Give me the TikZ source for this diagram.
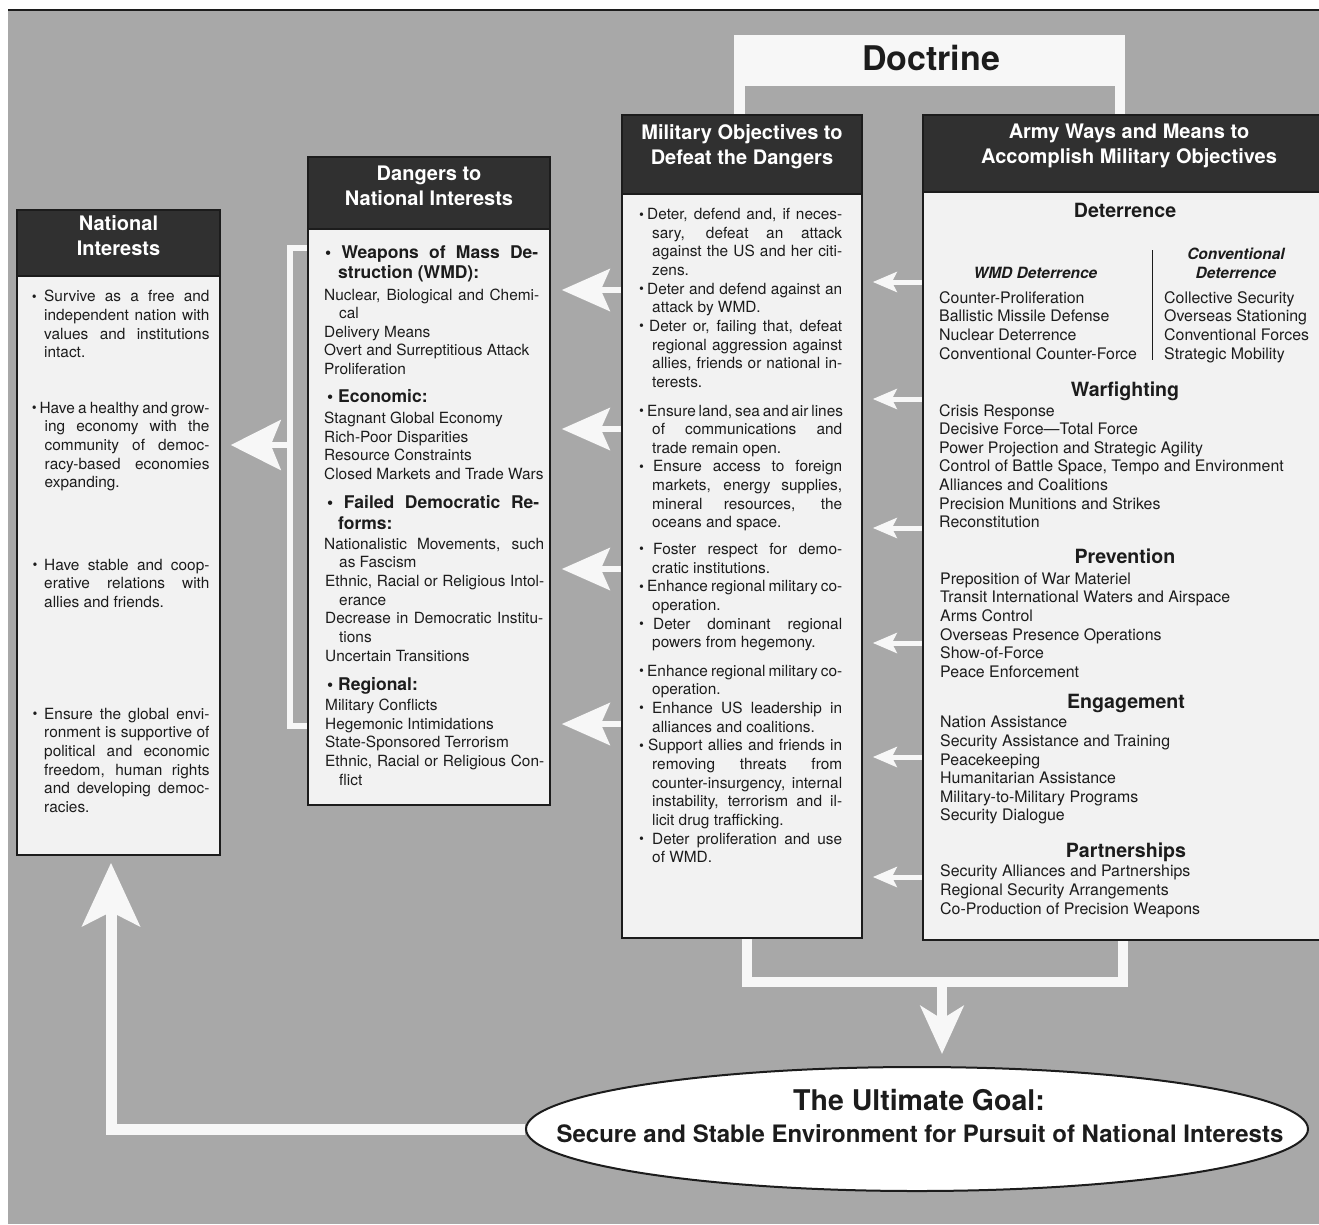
\documentclass[tikz,border=0pt]{standalone}
\usepackage{graphicx}
\usepackage{fontspec}
\setmainfont{TeX Gyre Heros}
\usetikzlibrary{arrows.meta,shapes.geometric,fit}

\definecolor{page}{HTML}{A8A8A8}
\definecolor{ink}{HTML}{1C1C1C}
\definecolor{hdrfill}{HTML}{303030}
\definecolor{paper}{HTML}{F2F2F2}
\definecolor{band}{HTML}{F7F7F7}

\pgfdeclarelayer{base}
\pgfdeclarelayer{links}
\pgfsetlayers{base,links,main}

% text helpers: column width and hanging indent of a bullet list
\newlength\colw
\newlength\hang
\newcommand\bodyfont{\fontsize{15.4}{18.65}\selectfont}
\newcommand\listfont{\fontsize{15.9}{18.65}\selectfont}
\newcommand\hdrfont{\bfseries\fontsize{20}{25}\selectfont}
\newcommand\secfont{\bfseries\fontsize{19.6}{22}\selectfont}
\newcommand\subfont{\bfseries\itshape\fontsize{15.5}{18.65}\selectfont}
\newcommand\blk[3]{\begin{minipage}[t]{#1}\bodyfont\setlength\colw{#1}\setlength\hang{#2}#3\end{minipage}}
\newcommand\lst[2]{\begin{minipage}[t]{#1}\listfont #2\end{minipage}}
% list bullet
\newcommand\dotb{\raisebox{0.6pt}{\scalebox{0.9}{\textbullet}}}
% first line of a bullet item, justified
\newcommand\fb[2][6pt]{\makebox[#1][l]{\dotb}\makebox[\dimexpr\colw-#1\relax][s]{#2}}
% continuation line, justified / natural
\newcommand\cj[1]{\hspace*{\hang}\makebox[\dimexpr\colw-\hang\relax][s]{#1}}
\newcommand\cn[1]{\hspace*{\hang}#1}
% bold category lines
\newcommand\dhd[2]{\makebox[#1][s]{\bfseries\fontsize{17.5}{18.65}\selectfont\textbullet\ #2}}
\newcommand\dhc[1]{{\bfseries\fontsize{17.5}{18.65}\selectfont #1}}

\begin{document}
\begin{tikzpicture}[x=1pt,y=-1pt,
  wband/.style={draw=band, line width=11pt},
  wline/.style={draw=band, line width=6pt},
  boxbody/.style={draw=ink, line width=1.6pt, fill=paper, inner sep=0pt},
  hdr/.style={draw=ink, line width=1.6pt, fill=hdrfill, inner sep=0pt,
    text=white, font=\hdrfont, align=center},
  txt/.style={anchor=base west, inner sep=0pt, text=ink},
  sec/.style={anchor=base, inner sep=0pt, text=ink, font=\secfont},
  sub/.style={anchor=base, inner sep=0pt, text=ink, font=\subfont},
  bigarrow/.style={-{Stealth[length=48pt,width=42pt,inset=9pt]}},
  smallarrow/.style={-{Stealth[length=24pt,width=20pt,inset=5pt]}}]

\useasboundingbox (0,0) rectangle (1319,1224);
\clip (0,0) rectangle (1319,1224);

\begin{pgfonlayer}{base}
  \fill[white] (0,0) rectangle (1319,1224);
  \fill[page] (8,10) rectangle (1319,1224);
  \draw[ink, line width=2pt] (8,10) -- (1319,10);
\end{pgfonlayer}

% ---------- boxes ----------
\node[boxbody, fit={(17,210)(220,855)}] (nat) {};
\node[hdr, fit={(17,210)(220,276)}] (nath) {National\\Interests};

\node[boxbody, fit={(308,157)(550,805)}] (dang) {};
\node[hdr, fit={(308,157)(550,229)}] (dangh) {Dangers to\\National Interests};

\node[boxbody, fit={(622,115)(862,938)}] (mil) {};
\node[hdr, fit={(622,115)(862,194)}] (milh) {Military Objectives to\\Defeat the Dangers};

\node[boxbody, fit={(923,115)(1335,940)}] (army) {};
\node[hdr, fit={(923,115)(1335,192)}] (armyh) {Army Ways and Means to\\Accomplish Military Objectives};

\node[ellipse, draw=ink, line width=2pt, fill=white, inner sep=0pt,
      minimum width=782pt, minimum height=124pt] (goal) at (917,1129) {};
\node[anchor=base, inner sep=0pt, text=ink, font=\bfseries\fontsize{28.5}{30}\selectfont]
  (goal1) at (919,1110) {The Ultimate Goal:};
\node[anchor=base, inner sep=0pt, text=ink, font=\bfseries\fontsize{24}{26}\selectfont]
  (goal2) at (920,1142) {Secure and Stable Environment for Pursuit of National Interests};

% ---------- white connectors ----------
\begin{pgfonlayer}{links}
  % doctrine frame
  \node[fill=band, inner sep=0pt, fit={(734,35)(1125,86)}] (doctrine) {};
  \coordinate (dl) at ([xshift=5.5pt]doctrine.south west);
  \coordinate (dr) at ([xshift=-5.5pt]doctrine.south east);
  \draw[wband] (dl) -- (dl |- milh.center);
  \draw[wband, line width=10pt] (dr) -- (dr |- armyh.center);

  % bracket joining the two right boxes, down to the goal
  \coordinate (bl) at (747,982);
  \coordinate (br) at (1123,982);
  \coordinate (bm) at (942,982);
  \draw[wband, line width=10pt] (bl |- mil.center) -- (bl) -- (br) -- (br |- army.center);
  \draw[wband, line width=10pt, -{Stealth[length=48pt,width=43pt,inset=13pt]}, shorten >=12pt]
    (bm) -- (goal.north -| bm);

  % feedback from the goal to national interests
  \draw[wband, line width=11pt, -{Stealth[length=63pt,width=57pt,inset=14pt]}, shorten >=7pt]
    (goal.west) -| (nat.south -| 111,0);

  % bracket from the dangers box to national interests
  \draw[wline, line width=5.5pt] (dang.center |- 0,248) -- (290,248) -- (290,726) -- (dang.center |- 0,726);
  \coordinate (bk) at (290,445);
  \draw[wline, line width=5.5pt, -{Stealth[length=50pt,width=50pt,inset=10pt]}, shorten >=10pt]
    (bk) -- (nat.east |- bk);

  % military objectives -> dangers
  \foreach \yy in {290,429,569,724}
    \draw[wline, bigarrow, shorten >=11pt] (mil.center |- 0,\yy) -- (dang.east |- 0,\yy);

  % army ways and means -> military objectives
  \foreach \yy in {282,399,528,643,757,877}
    \draw[wline, line width=5pt, smallarrow, shorten >=10pt] (army.center |- 0,\yy) -- (mil.east |- 0,\yy);
\end{pgfonlayer}

\node[anchor=base, inner sep=0pt, text=ink, font=\bfseries\fontsize{34}{36}\selectfont]
  (doctext) at (931,70) {Doctrine};

% ---------- national interests ----------
\node[txt] (nat1) at (31.7,301.8) {\blk{177.6pt}{12.3pt}{%
\fb[12.3pt]{Survive as a free and}\\
\cj{independent nation with}\\
\cj{values and institutions}\\
\cn{intact.}}};
\node[txt] (nat2) at (31.7,413.3) {\blk{177.6pt}{12.8pt}{%
\fb[7.6pt]{Have a healthy and grow-}\\
\cj{ing economy with the}\\
\cj{community of democ-}\\
\cj{racy-based economies}\\
\cn{expanding.}}};
\node[txt] (nat3) at (32.5,570.3) {\blk{176.8pt}{11.5pt}{%
\fb[11.5pt]{Have stable and coop-}\\
\cj{erative relations with}\\
\cn{allies and friends.}}};
\node[txt] (nat4) at (32.5,719.3) {\blk{176.8pt}{11.5pt}{%
\fb[11.5pt]{Ensure the global envi-}\\
\cj{ronment is supportive of}\\
\cj{political and economic}\\
\cj{freedom, human rights}\\
\cj{and developing democ-}\\
\cn{racies.}}};

% ---------- dangers ----------
\node[txt] (dan1) at (324,258.5) {\blk{220pt}{15pt}{%
\hspace*{1pt}\dhd{213pt}{Weapons of Mass De-}\\[1.8pt]
\hspace*{14pt}\dhc{struction (WMD):}\\[2.4pt]
\makebox[215pt][s]{Nuclear, Biological and Chemi-}\\
\cn{cal}\\
Delivery Means\\
Overt and Surreptitious Attack\\
Proliferation}};
\node[txt] (dan2) at (324,402) {\blk{220pt}{15pt}{%
\hspace*{3pt}\dhc{\textbullet\ Economic:}\\[2.7pt]
Stagnant Global Economy\\
Rich-Poor Disparities\\
Resource Constraints\\
Closed Markets and Trade Wars}};
\node[txt] (dan3) at (324,508.4) {\blk{220pt}{15pt}{%
\hspace*{3pt}\dhd{212pt}{Failed Democratic Re-}\\[2pt]
\hspace*{14pt}\dhc{forms:}\\[1.4pt]
\makebox[220pt][s]{Nationalistic Movements, such}\\
\cn{as Fascism}\\
\hspace*{1pt}\makebox[219pt][s]{Ethnic, Racial or Religious Intol-}\\
\cn{erance}\\
\hspace*{1pt}\makebox[218pt][s]{Decrease in Democratic Institu-}\\
\cn{tions}\\
\hspace*{1pt}Uncertain Transitions}};
\node[txt] (dan4) at (324,690) {\blk{220pt}{15pt}{%
\hspace*{3pt}\dhc{\textbullet\ Regional:}\\[2pt]
\hspace*{1pt}Military Conflicts\\
\hspace*{1pt}Hegemonic Intimidations\\
\hspace*{1pt}State-Sponsored Terrorism\\
\hspace*{1pt}\makebox[219pt][s]{Ethnic, Racial or Religious Con-}\\
\cn{flict}}};

% ---------- military objectives ----------
\node[txt] (mil1) at (639,219.6) {\blk{203pt}{13pt}{%
\fb[8pt]{Deter, defend and, if neces-}\\
\cj{sary, defeat an attack}\\
\cj{against the US and her citi-}\\
\cn{zens.}\\
\fb[8pt]{Deter and defend against an}\\
\cn{attack by WMD.}\\
\fb[10pt]{Deter or, failing that, defeat}\\
\cj{regional aggression against}\\
\cj{allies, friends or national in-}\\
\cn{terests.}}};
\node[txt] (mil2) at (639,416) {\blk{203pt}{13pt}{%
\fb[8pt]{Ensure land, sea and air lines}\\
\cj{of communications and}\\
\cn{trade remain open.}\\
\fb[14pt]{Ensure access to foreign}\\
\cj{markets, energy supplies,}\\
\cj{mineral resources, the}\\
\cn{oceans and space.}}};
\node[txt] (mil3) at (639,554.4) {\blk{203pt}{13pt}{%
\fb[14pt]{Foster respect for demo-}\\
\cn{cratic institutions.}\\
\fb[8pt]{Enhance regional military co-}\\
\cn{operation.}\\
\fb[14pt]{Deter dominant regional}\\
\cn{powers from hegemony.}}};
\node[txt] (mil4) at (639,676.2) {\blk{203pt}{13pt}{%
\fb[8pt]{Enhance regional military co-}\\
\cn{operation.}\\
\fb[13pt]{Enhance US leadership in}\\
\cn{alliances and coalitions.}\\
\fb[9pt]{Support allies and friends in}\\
\cj{removing threats from}\\
\cj{counter-insurgency, internal}\\
\cj{instability, terrorism and il-}\\
\cn{licit drug trafficking.}\\
\fb[13pt]{Deter proliferation and use}\\
\cn{of WMD.}}};

% ---------- army ways and means ----------
\node[sec] (s1) at (1125,217) {Deterrence};
\node[sub] (s1a) at (1035.5,278.6) {WMD Deterrence};
\node[sub, align=center, anchor=base] (s1b) at (1236,278.6) {Conventional\\Deterrence};
\draw[ink, line width=0.8pt] (1152,250) -- (1152,360);
\node[txt] (a1) at (939,303.3) {\lst{214pt}{%
Counter-Proliferation\\
Ballistic Missile Defense\\
Nuclear Deterrence\\
Conventional Counter-Force}};
\node[txt] (a2) at (1164,303.3) {\lst{160pt}{%
Collective Security\\
Overseas Stationing\\
Conventional Forces\\
Strategic Mobility}};

\node[sec] (s2) at (1125,396) {Warfighting};
\node[txt] (a3) at (939,416) {\lst{370pt}{%
Crisis Response\\
Decisive Force—Total Force\\
Power Projection and Strategic Agility\\
Control of Battle Space, Tempo and Environment\\
Alliances and Coalitions\\
Precision Munitions and Strikes\\
Reconstitution}};

\node[sec] (s3) at (1125,563.7) {Prevention};
\node[txt] (a4) at (940,584.3) {\lst{370pt}{%
Preposition of War Materiel\\
Transit International Waters and Airspace\\
Arms Control\\
Overseas Presence Operations\\
Show-of-Force\\
Peace Enforcement}};

\node[sec] (s4) at (1126,708) {Engagement};
\node[txt] (a5) at (940,727.7) {\lst{370pt}{%
Nation Assistance\\
Security Assistance and Training\\
Peacekeeping\\
Humanitarian Assistance\\
Military-to-Military Programs\\
Security Dialogue}};

\node[sec] (s5) at (1126,857) {Partnerships};
\node[txt] (a6) at (940,876.7) {\lst{370pt}{%
Security Alliances and Partnerships\\
Regional Security Arrangements\\
Co-Production of Precision Weapons}};

\end{tikzpicture}
\end{document}
